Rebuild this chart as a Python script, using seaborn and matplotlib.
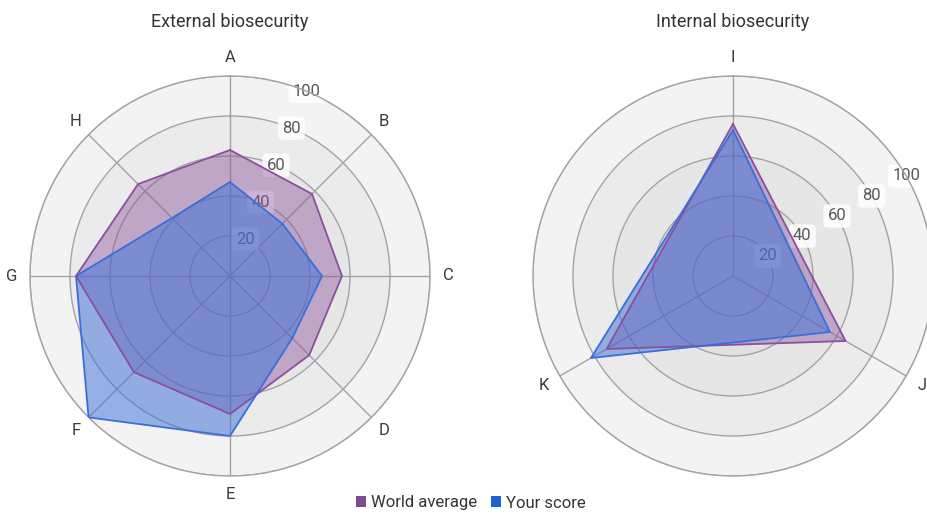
import numpy as np
import pandas as pd
import matplotlib
matplotlib.use("Agg")
import matplotlib.pyplot as plt
from matplotlib import font_manager
from matplotlib.patches import Patch
import seaborn as sns

# ---------------- data ----------------
ext_categories = ["A", "B", "C", "D", "E", "F", "G", "H"]
ext_world = [63, 58, 56, 56, 69, 68, 77, 65]
ext_score = [47, 37, 46, 44, 80, 100, 77, 41]

int_categories = ["I", "J", "K"]
int_world = [76, 65, 73]
int_score = [73, 56, 82]

r_ticks = [20, 40, 60, 80, 100]
r_tick_labels = ["20", "40", "60", "80", "100"]
series_names = ["World average", "Your score"]
titles = ["External biosecurity", "Internal biosecurity"]

# ---------------- style ----------------
sns.set_theme(style="white")
available = {f.name for f in font_manager.fontManager.ttflist}
family = [f for f in ["Liberation Sans Narrow", "DejaVu Sans Condensed", "Roboto", "DejaVu Sans"] if f in available]
plt.rcParams["font.family"] = family + ["DejaVu Sans"]

purple = "#8b4f9e"
blue = "#3a6fd8"
legend_colors = ["#7b4b94", "#2063d0"]
grid_col = "#a3a3a3"
band_cols = ["#dedede", "#e1e1e1", "#e6e6e6", "#ebebeb", "#f3f3f3"]

fig = plt.figure(figsize=(9.28, 5.14), dpi=100)
W, H = 928, 514
R = 200


def make_radar(cx, cy, cats, world, score, label_angle, title):
    ax = fig.add_axes([(cx - R) / W, (H - cy - R) / H, 2 * R / W, 2 * R / H], projection="polar")
    ax.set_theta_zero_location("N")
    ax.set_theta_direction(-1)
    ax.set_facecolor("white")
    ax.set_axisbelow(True)
    n = len(cats)
    angles = np.arange(n) * 2 * np.pi / n

    # concentric background bands
    th = np.linspace(0, 2 * np.pi, 361)
    prev = 0
    for r, c in zip(r_ticks, band_cols):
        ax.fill_between(th, prev, r, color=c, lw=0, zorder=0.1)
        prev = r

    ax.set_ylim(0, 100)
    ax.set_yticks(r_ticks)
    ax.set_yticklabels([])
    ax.set_xticks(angles)
    ax.set_xticklabels(cats, fontsize=12, color="#3a3a3a")
    ax.tick_params(axis="x", pad=0)
    ax.grid(True, color=grid_col, lw=1.0)
    ax.spines["polar"].set_color(grid_col)
    ax.spines["polar"].set_linewidth(1.0)

    # radial labels (beneath the series)
    for r, lab in zip(r_ticks, r_tick_labels):
        ax.text(np.deg2rad(label_angle), r, lab, ha="center", va="center",
                fontsize=12, color="#5a5a5a", zorder=1,
                bbox=dict(boxstyle="round,pad=0.25", fc="white", ec="none", alpha=0.85))

    for vals, col, a in [(world, purple, 0.42), (score, blue, 0.5)]:
        df = pd.DataFrame({"theta": np.append(angles, angles[0]),
                           "r": np.append(vals, vals[0])})
        ax.fill(df["theta"], df["r"], color=col, alpha=a, lw=0, zorder=2)
        sns.lineplot(data=df, x="theta", y="r", sort=False, ax=ax, color=col,
                     lw=1.3, zorder=3, estimator=None)
    ax.set_xlabel("")
    ax.set_ylabel("")
    fig.text(cx / W, 1 - 22 / H, title, ha="center", va="center", fontsize=13, color="#333333")
    return ax


make_radar(230, 276, ext_categories, ext_world, ext_score, 22.5, titles[0])
make_radar(733, 276, int_categories, int_world, int_score, 60, titles[1])

handles = [Patch(facecolor=c, edgecolor="none") for c in legend_colors]
fig.legend(handles, series_names, loc="center", bbox_to_anchor=(471 / W, 1 - 503 / H),
           ncol=2, frameon=False, fontsize=12, handlelength=0.6, handleheight=0.6,
           handletextpad=0.3, columnspacing=0.8, labelcolor="#333333")

fig.savefig("out.png", dpi=100)
